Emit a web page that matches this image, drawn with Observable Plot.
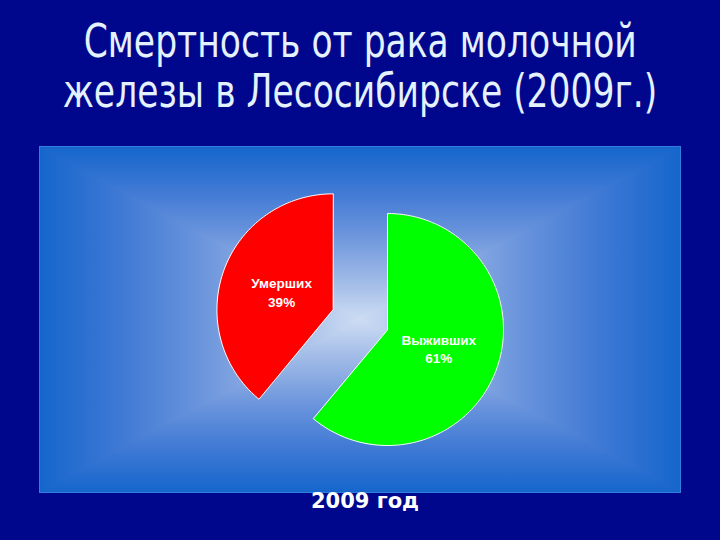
<!DOCTYPE html>
<html><head><meta charset="utf-8">
<script src="https://cdn.jsdelivr.net/npm/d3@7"></script>
<script src="https://cdn.jsdelivr.net/npm/@observablehq/plot@0.6"></script>
<style>
html,body{margin:0;padding:0;}
body{width:720px;height:540px;background:#00078c;position:relative;overflow:hidden;}
#title{position:absolute;left:0;top:16px;width:720px;color:#e4f1ff;
  font-family:"DejaVu Sans Condensed","DejaVu Sans",sans-serif;font-size:46px;line-height:50px;}
#title div{width:720px;text-align:center;white-space:nowrap;}
#title span{display:inline-block;transform:scaleX(0.835);transform-origin:50% 50%;white-space:nowrap;}
#panel{position:absolute;left:40px;top:147px;width:640px;height:345px;background-color:#cddcf3;
  background-image:linear-gradient(to right,#1566cc 0%,#3d78d4 12%,#6a94dc 25%,#9db8e6 38%,#cddcf3 50%,#9db8e6 62%,#6a94dc 75%,#3d78d4 88%,#1566cc 100%),
                   linear-gradient(to bottom,#1566cc 0%,#3d78d4 12%,#6a94dc 25%,#9db8e6 38%,#cddcf3 50%,#9db8e6 62%,#6a94dc 75%,#3d78d4 88%,#1566cc 100%);
  background-blend-mode:darken;box-shadow:0 0 0 1px #2f7ee0;}
#caption{position:absolute;left:5px;width:720px;top:489px;text-align:center;color:#fff;
  font-family:"DejaVu Sans",sans-serif;font-weight:bold;font-size:21px;}
</style>
</head><body>
<div id="title"><div><span>Смертность от рака молочной</span></div><div><span>железы в Лесосибирске (2009г.)</span></div></div>
<div id="panel"></div>
<div id="caption">2009 год</div>
<script>
const categories = ["Выживших", "Умерших"];
const values = [61, 39];
const colors = ["#00ff00", "#ff0000"];
const explodedCategory = "Умерших";

const total = d3.sum(values);
const arcs = d3.pie().sort(null).value(d => d.value)(categories.map((c, i) => ({category: c, value: values[i]})));
const explodeDist = 0.5;
const labelRadius = 0.47;
const outline = [];
const labels = [];
for (const a of arcs) {
  const mid = (a.startAngle + a.endAngle) / 2;
  const off = a.data.category === explodedCategory ? explodeDist : 0;
  const cx = off * Math.sin(mid), cy = off * Math.cos(mid);
  outline.push({category: a.data.category, x: cx, y: cy});
  const n = Math.ceil((a.endAngle - a.startAngle) / (Math.PI / 180));
  for (let k = 0; k <= n; k++) {
    const t = a.startAngle + (a.endAngle - a.startAngle) * k / n;
    outline.push({category: a.data.category, x: cx + Math.sin(t), y: cy + Math.cos(t)});
  }
  labels.push({
    x: cx + labelRadius * Math.sin(mid),
    y: cy + labelRadius * Math.cos(mid),
    text: a.data.category + "\n" + Math.round(a.data.value / total * 100) + "%"
  });
}

const R = 116, W = 640, H = 345, CX = 347, CY = 182;
const chart = Plot.plot({
  width: W, height: H, margin: 0,
  x: {domain: [-CX / R, (W - CX) / R], axis: null},
  y: {domain: [-(H - CY) / R, CY / R], axis: null},
  color: {domain: categories, range: colors},
  style: {background: "transparent", overflow: "visible"},
  marks: [
    Plot.line(outline, {x: "x", y: "y", z: "category", fill: "category", stroke: "white", strokeWidth: 1, curve: "linear-closed"}),
    Plot.text(labels, {x: "x", y: "y", text: "text", fill: "white", fontSize: 13.5, fontWeight: "bold",
      fontFamily: "Liberation Sans, Arial, sans-serif", lineHeight: 1.4})
  ]
});
document.getElementById("panel").appendChild(chart);
</script>
</body></html>
